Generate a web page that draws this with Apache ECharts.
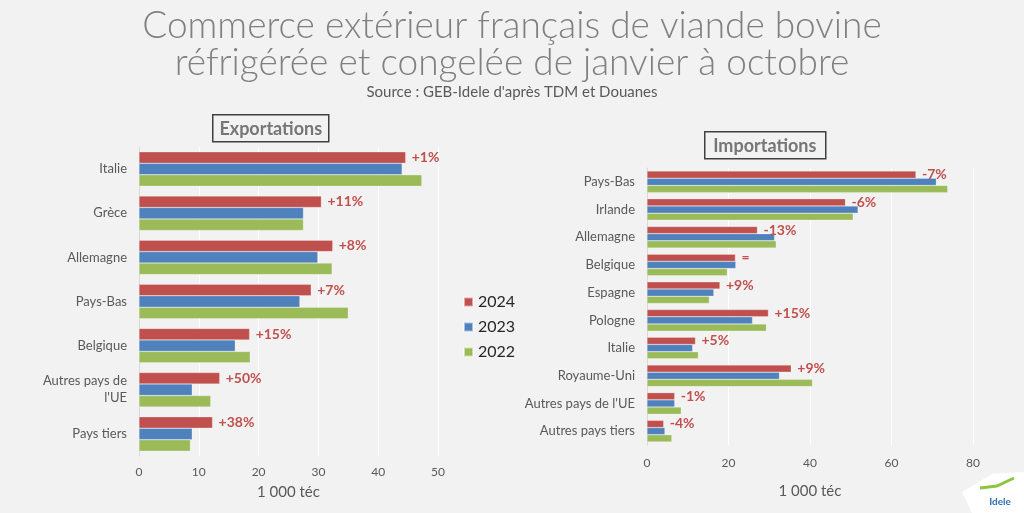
<!DOCTYPE html>
<html><head><meta charset="utf-8">
<script src="https://cdn.jsdelivr.net/npm/echarts@6/dist/echarts.min.js"></script>
<style>html,body{margin:0;padding:0;background:#f2f2f2}#c{width:1024px;height:513px}</style>
</head><body><div id="c"></div>
<script>
var years = ['2024', '2023', '2022'];
var expCategories = ['Italie', 'Grèce', 'Allemagne', 'Pays-Bas', 'Belgique', "Autres pays de l'UE", 'Pays tiers'];
var exp2024 = [44.6, 30.5, 32.4, 28.8, 18.5, 13.5, 12.3];
var exp2023 = [44.0, 27.5, 29.9, 26.9, 16.1, 8.9, 8.9];
var exp2022 = [47.3, 27.5, 32.3, 35.0, 18.6, 12.0, 8.6];
var expChange = ['+1%', '+11%', '+8%', '+7%', '+15%', '+50%', '+38%'];

var impCategories = ['Pays-Bas', 'Irlande', 'Allemagne', 'Belgique', 'Espagne', 'Pologne', 'Italie', 'Royaume-Uni', "Autres pays de l'UE", 'Autres pays tiers'];
var imp2024 = [66.0, 48.7, 27.1, 21.7, 17.9, 29.8, 11.9, 35.4, 6.8, 4.1];
var imp2023 = [71.0, 51.8, 31.3, 21.8, 16.4, 25.9, 11.2, 32.5, 6.8, 4.4];
var imp2022 = [73.8, 50.6, 31.7, 19.7, 15.3, 29.3, 12.6, 40.6, 8.4, 6.1];
var impChange = ['-7%', '-6%', '-13%', '=', '+9%', '+15%', '+5%', '+9%', '-1%', '-4%'];

var colors = ['#C0504D', '#4F81BD', '#9BBB59'];
var font = 'Lato, "Noto Sans", sans-serif';

function mkSeries(name, data, idx, colorIdx, labels) {
  var s = {
    name: name, type: 'bar', data: data, xAxisIndex: idx, yAxisIndex: idx,
    barCategoryGap: '22%', barGap: '0%',
    itemStyle: {color: colors[colorIdx], borderColor: 'rgba(255,255,255,0.5)', borderWidth: 0.5},
    animation: false
  };
  if (labels) {
    s.label = {show: true, position: 'right', distance: 6, color: '#C0504D', fontWeight: 'bold',
      fontSize: 14, fontFamily: font,
      formatter: function (p) { return labels[p.dataIndex]; }};
  }
  return s;
}

var chart = echarts.init(document.getElementById('c'));
chart.setOption({
  backgroundColor: '#f2f2f2',
  textStyle: {fontFamily: font},
  title: [
    {text: 'Commerce extérieur français de viande bovine\nréfrigérée et congelée de janvier à octobre',
     left: 'center', top: 3,
     textStyle: {fontSize: 37, fontWeight: 300, color: '#808080', lineHeight: 37, fontFamily: font, align: 'center'}},
    {text: "Source : GEB-Idele d'après TDM et Douanes", left: 'center', top: 80,
     textStyle: {fontSize: 15, fontWeight: 'normal', color: '#595959', fontFamily: font}}
  ],
  legend: {
    data: years, orient: 'vertical', left: 458, top: 289, itemWidth: 9, itemHeight: 9, itemGap: 9,
    icon: 'rect', textStyle: {fontSize: 16, color: '#262626', fontFamily: font}
  },
  grid: [
    {left: 139, width: 299, top: 147, height: 309},
    {left: 647, width: 326, top: 168, height: 277}
  ],
  xAxis: [
    {gridIndex: 0, type: 'value', min: 0, max: 50, interval: 10,
     name: '1 000 téc', nameLocation: 'middle', nameGap: 29,
     nameTextStyle: {fontSize: 15, color: '#595959'},
     axisLabel: {fontSize: 12, color: '#595959', margin: 10},
     splitLine: {lineStyle: {color: '#ffffff', width: 1}}, axisLine: {show: false}, axisTick: {show: false}},
    {gridIndex: 1, type: 'value', min: 0, max: 80, interval: 20,
     name: '1 000 téc', nameLocation: 'middle', nameGap: 39,
     nameTextStyle: {fontSize: 15, color: '#595959'},
     axisLabel: {fontSize: 12, color: '#595959', margin: 12},
     splitLine: {lineStyle: {color: '#ffffff', width: 1}}, axisLine: {show: false}, axisTick: {show: false}}
  ],
  yAxis: [
    {gridIndex: 0, type: 'category', data: expCategories, inverse: true,
     axisLine: {lineStyle: {color: '#d9d9d9'}}, axisTick: {show: false},
     axisLabel: {fontSize: 13, color: '#595959', margin: 12, lineHeight: 17,
       formatter: function (v) { return v === "Autres pays de l'UE" ? "Autres pays de\nl'UE" : v; }}},
    {gridIndex: 1, type: 'category', data: impCategories, inverse: true,
     axisLine: {lineStyle: {color: '#d9d9d9'}}, axisTick: {show: false},
     axisLabel: {fontSize: 13, color: '#595959', margin: 12}}
  ],
  graphic: [
    {type: 'group', left: 212, top: 114, children: [
      {type: 'rect', shape: {x: 0, y: 0, width: 116, height: 27}, style: {fill: '#f2f2f2', stroke: '#404040', lineWidth: 1.5}},
      {type: 'text', x: 58, y: 14, style: {text: 'Exportations', textAlign: 'center', textVerticalAlign: 'middle', fontSize: 18, fontWeight: 'bold', fill: '#767676', fontFamily: font}}
    ]},
    {type: 'group', left: 704, top: 131, children: [
      {type: 'rect', shape: {x: 0, y: 0, width: 121, height: 27}, style: {fill: '#f2f2f2', stroke: '#404040', lineWidth: 1.5}},
      {type: 'text', x: 60, y: 14, style: {text: 'Importations', textAlign: 'center', textVerticalAlign: 'middle', fontSize: 18, fontWeight: 'bold', fill: '#767676', fontFamily: font}}
    ]},
    {type: 'group', left: 962, top: 472, children: [
      {type: 'polygon', shape: {points: [[0, 20], [30, 2], [62, 0], [62, 41], [10, 41]]}, style: {fill: '#ffffff'}},
      {type: 'text', x: 38, y: 25, style: {text: 'Idele', fontSize: 10, fontWeight: 'bold', fill: '#2e6db4', textAlign: 'center', fontFamily: font}},
      {type: 'polyline', shape: {points: [[18, 16], [35, 14], [52, 6]]}, style: {stroke: '#8cc63f', lineWidth: 3, fill: null}}
    ]}
  ],
  series: [
    mkSeries('2024', exp2024, 0, 0, expChange),
    mkSeries('2023', exp2023, 0, 1),
    mkSeries('2022', exp2022, 0, 2),
    mkSeries('2024', imp2024, 1, 0, impChange),
    mkSeries('2023', imp2023, 1, 1),
    mkSeries('2022', imp2022, 1, 2)
  ]
});
</script></body></html>
